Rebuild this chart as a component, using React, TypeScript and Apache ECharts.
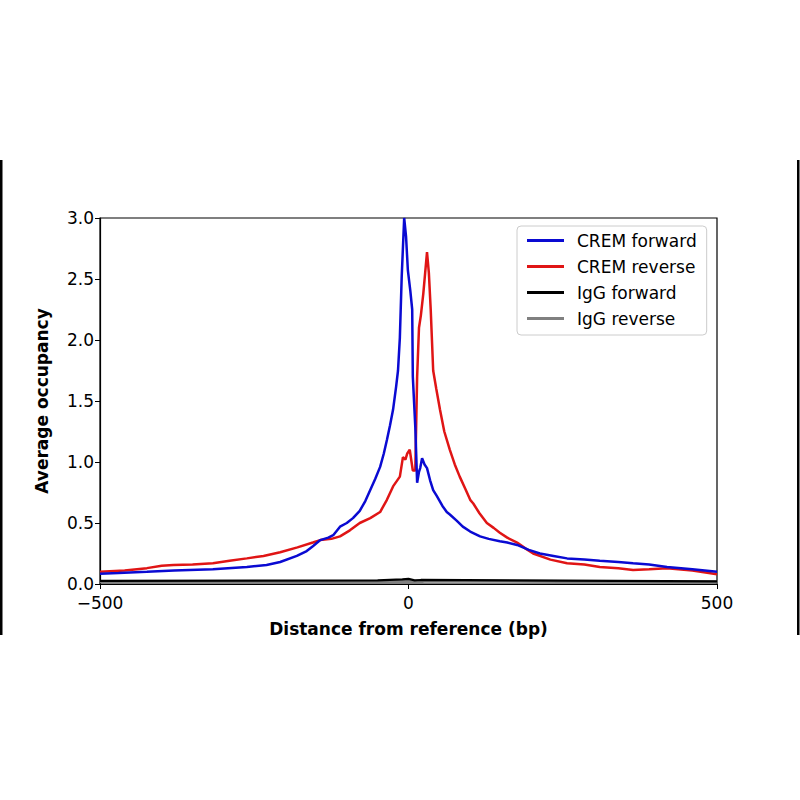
import React, { useEffect, useRef } from "react";
import * as echarts from "echarts";

// CREM forward (blue)
const fwdBp = [-500, -470, -424, -380, -317, -262, -230, -208, -181, -165, -155, -143, -130, -122, -111, -100, -90, -79, -70, -62, -54, -46, -40, -35, -30, -25, -20, -17, -14, -11, -7, -4, -1, 3, 6, 7, 11, 14, 17, 19, 22, 26, 30, 35, 40, 46, 55, 62, 67, 78, 88, 100, 116, 130, 148, 160, 176, 195, 213, 235, 257, 285, 310, 340, 364, 390, 419, 460, 500];
const fwdOcc = [0.085, 0.09, 0.10, 0.11, 0.12, 0.14, 0.155, 0.18, 0.23, 0.27, 0.31, 0.36, 0.38, 0.40, 0.47, 0.50, 0.54, 0.60, 0.68, 0.77, 0.86, 0.96, 1.07, 1.18, 1.30, 1.43, 1.62, 1.75, 2.02, 2.52, 3.0, 2.85, 2.57, 2.4, 2.25, 1.7, 1.29, 0.83, 0.92, 0.95, 1.03, 0.98, 0.95, 0.85, 0.77, 0.72, 0.64, 0.59, 0.57, 0.52, 0.47, 0.43, 0.39, 0.37, 0.35, 0.34, 0.32, 0.28, 0.25, 0.23, 0.21, 0.2, 0.19, 0.18, 0.17, 0.16, 0.14, 0.12, 0.10];

// CREM reverse (red)
const revBp = [-500, -460, -424, -400, -381, -350, -317, -290, -262, -235, -208, -180, -155, -143, -125, -111, -95, -79, -62, -46, -35, -25, -14, -9, -5, -2, 2, 7, 11, 14, 17, 20, 24, 27, 30, 33, 36, 40, 45, 51, 58, 67, 75, 83, 92, 100, 105, 115, 127, 138, 148, 160, 176, 190, 202, 230, 257, 285, 310, 340, 364, 390, 419, 460, 500];
const revOcc = [0.10, 0.11, 0.13, 0.15, 0.155, 0.16, 0.17, 0.19, 0.21, 0.23, 0.26, 0.30, 0.34, 0.36, 0.37, 0.39, 0.44, 0.50, 0.54, 0.59, 0.69, 0.80, 0.88, 1.04, 1.02, 1.07, 1.10, 0.93, 0.93, 1.7, 2.1, 2.2, 2.38, 2.55, 2.72, 2.55, 2.25, 1.75, 1.6, 1.43, 1.25, 1.10, 0.98, 0.88, 0.78, 0.69, 0.66, 0.58, 0.50, 0.46, 0.42, 0.38, 0.34, 0.29, 0.25, 0.2, 0.17, 0.16, 0.14, 0.13, 0.115, 0.12, 0.13, 0.11, 0.08];

// IgG forward (black)
const igfBp = [-500, -250, -50, -10, 0, 10, 20, 250, 500];
const igfOcc = [0.025, 0.027, 0.03, 0.038, 0.042, 0.03, 0.033, 0.028, 0.022];

// IgG reverse (gray)
const igrBp = [-500, -250, -50, 0, 10, 30, 250, 500];
const igrOcc = [0.018, 0.019, 0.02, 0.022, 0.015, 0.024, 0.02, 0.017];

const xTicks = [-500, 0, 500];
const yTicks = [0, 0.5, 1.0, 1.5, 2.0, 2.5, 3.0];

const seriesNames = ["CREM forward", "CREM reverse", "IgG forward", "IgG reverse"];
const seriesColors = ["#0a0ad2", "#e01515", "#000000", "#808080"];
const seriesWidths = [2.5, 2.5, 2.2, 3];

const zip = (xs: number[], ys: number[]) => xs.map((x, i) => [x, ys[i]]);

const FONT = "DejaVu Sans";

export default function App() {
  const ref = useRef<HTMLDivElement>(null);
  useEffect(() => {
    if (!ref.current) return;
    const chart = echarts.init(ref.current, undefined, { renderer: "svg" });
    const datasets = [zip(fwdBp, fwdOcc), zip(revBp, revOcc), zip(igfBp, igfOcc), zip(igrBp, igrOcc)];
    const order = [3, 2, 1, 0];
    chart.setOption({
      animation: false,
      backgroundColor: "#ffffff",
      textStyle: { fontFamily: FONT },
      grid: {
        left: 100,
        right: 83,
        top: 218,
        bottom: 216,
        show: true,
        borderColor: "#000",
        borderWidth: 1.2,
        backgroundColor: "transparent",
      },
      legend: {
        orient: "vertical",
        left: 517,
        top: 226,
        data: seriesNames,
        icon: "rect",
        itemWidth: 37,
        itemHeight: 3,
        itemGap: 9,
        padding: [6, 10, 8, 10],
        borderColor: "#cccccc",
        borderWidth: 1,
        borderRadius: 4,
        backgroundColor: "#ffffff",
        textStyle: { fontFamily: FONT, fontSize: 17, color: "#000", padding: [0, 0, 0, 8] },
      },
      xAxis: {
        type: "value",
        min: -500,
        max: 500,
        interval: 500,
        name: "Distance from reference (bp)",
        nameLocation: "middle",
        nameGap: 36,
        nameTextStyle: { fontFamily: FONT, fontSize: 17, fontWeight: "bold", color: "#000" },
        axisLine: { show: true, onZero: false, lineStyle: { color: "#000", width: 1.2 } },
        axisTick: { show: true, inside: false, length: 5, lineStyle: { color: "#000" } },
        axisLabel: {
          fontFamily: FONT,
          fontSize: 17,
          color: "#000",
          margin: 10,
          formatter: (v: number) => (xTicks.includes(v) ? (v < 0 ? "\u2212" + Math.abs(v) : String(v)) : ""),
        },
        splitLine: { show: false },
      },
      yAxis: {
        type: "value",
        min: 0,
        max: 3,
        interval: 0.5,
        name: "Average occupancy",
        nameLocation: "middle",
        nameGap: 50,
        nameTextStyle: { fontFamily: FONT, fontSize: 17, fontWeight: "bold", color: "#000" },
        axisLine: { show: true, onZero: false, lineStyle: { color: "#000", width: 1.2 } },
        axisTick: { show: true, inside: false, length: 5, lineStyle: { color: "#000" } },
        axisLabel: {
          fontFamily: FONT,
          fontSize: 17,
          color: "#000",
          margin: 6,
          formatter: (v: number) => (yTicks.some((t) => Math.abs(t - v) < 1e-9) ? v.toFixed(1) : ""),
        },
        splitLine: { show: false },
      },
      series: order.map((i) => ({
        name: seriesNames[i],
        type: "line",
        data: datasets[i],
        showSymbol: false,
        symbol: "none",
        clip: true,
        z: 10 - i,
        lineStyle: { color: seriesColors[i], width: seriesWidths[i] },
        itemStyle: { color: seriesColors[i] },
      })),
      graphic: [
        { type: "rect", left: 0, top: 160, shape: { width: 2.5, height: 475 }, style: { fill: "#000" } },
        { type: "rect", left: 797, top: 160, shape: { width: 2.5, height: 475 }, style: { fill: "#000" } },
      ],
    });
    return () => chart.dispose();
  }, []);
  return (
    <div
      ref={ref}
      style={{ position: "fixed", left: 0, top: 0, width: 800, height: 800, background: "#fff" }}
    />
  );
}
